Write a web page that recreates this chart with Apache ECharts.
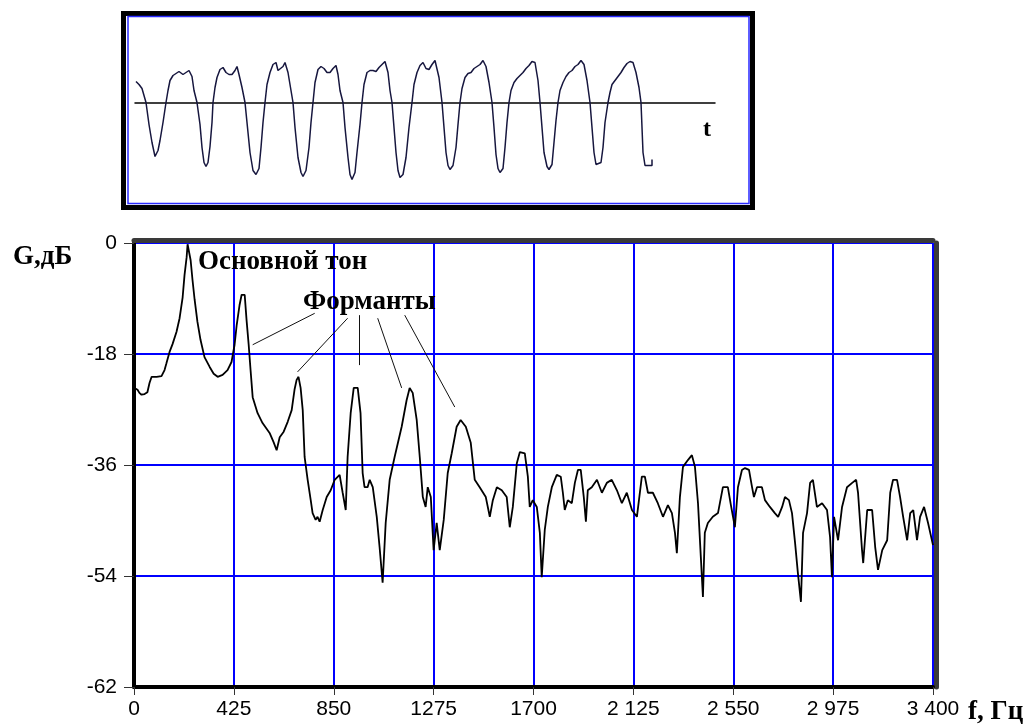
<!DOCTYPE html>
<html>
<head>
<meta charset="utf-8">
<script src="https://cdn.jsdelivr.net/npm/echarts@6/dist/echarts.min.js"></script>
<style>
html,body{margin:0;padding:0;background:#fff;}
#c{width:1029px;height:727px;}
</style>
</head>
<body>
<div id="c"></div>
<script>
// ---- Waveform (top box): time samples and amplitude (arbitrary units) ----
const waveT = [1,4,7,11,14,17,20,23,25,28,31,33,35,38,41,44,48,51,54,57,59,62,
65,67,69,71,73,75,77,78,80,82,85,88,91,94,97,100,102,104,107,110,
112,115,118,121,124,126,128,130,132,135,138,141,143,145,148,150,153,156,158,
160,163,166,168,171,174,176,178,180,183,186,189,192,195,198,201,203,205,208,
210,213,215,217,220,222,225,227,229,232,235,238,241,244,247,250,253,255,257,
259,261,263,265,268,271,274,277,279,282,285,288,291,294,297,300,302,304,307,
309,311,313,315,318,321,323,325,327,330,333,336,339,342,345,348,351,354,357,
359,361,363,365,368,370,372,374,376,379,382,385,388,391,394,397,400,403,405,
407,409,412,414,417,419,421,423,425,428,431,434,437,440,443,446,449,452,455,
457,459,461,463,466,468,470,473,475,477,480,483,486,489,492,495,498,501,504,506,
507,508,510,513,517,517];
const waveA = [21,18,14,0,-22,-40,-54,-48,-38,-20,0,12,22,27,29,31,28,30,32,26,12,0,
-22,-45,-60,-64,-60,-44,-20,0,15,25,33,35,30,28,28,32,36,28,15,0,
-20,-50,-68,-72,-66,-45,-20,0,18,30,38,40,32,30,36,40,30,12,0,
-25,-55,-70,-74,-68,-45,-20,0,20,33,36,34,30,30,34,37,28,12,0,
-25,-55,-72,-77,-70,-50,-22,0,18,30,32,32,31,35,38,41,30,12,0,
-25,-50,-68,-75,-72,-55,-25,0,18,30,37,40,34,33,38,42,40,25,0,
-25,-50,-63,-67,-63,-45,-22,0,14,25,29,30,34,36,38,42,36,20,0,
-25,-52,-66,-70,-66,-45,-20,0,12,20,24,27,30,34,37,41,40,22,0,
-25,-50,-64,-67,-62,-40,-18,0,12,20,26,30,32,36,38,42,38,22,0,
-25,-50,-62,-64,-60,-45,-20,0,10,18,22,26,30,35,39,41,40,30,15,0,
-25,-50,-63,-63,-63,-57];

// ---- Spectrum: frequency (Hz) and level (dB, linear plot scale) ----
const freqHz = [2,15,23,32,45,57,66,75,96,117,130,138,151,164,181,194,207,215,224,228,232,241,249,258,270,283,300,322,339,356,377,398,415,428,437,449,458,471,479,488,496,505,526,547,577,594,607,620,637,654,671,683,692,700,709,718,726,739,752,760,773,781,790,803,820,837,854,875,888,901,909,922,935,952,964,973,981,994,1003,1016,1033,1045,1058,1071,1088,1109,1139,1160,1173,1186,1203,1216,1229,1241,1250,1263,1275,1288,1301,1318,1335,1352,1373,1390,1412,1433,1450,1471,1497,1514,1527,1544,1565,1586,1599,1612,1629,1642,1663,1676,1684,1697,1714,1727,1735,1748,1761,1778,1799,1816,1825,1833,1846,1863,1876,1889,1901,1914,1923,1931,1948,1970,1991,2012,2033,2055,2076,2097,2119,2140,2161,2174,2187,2208,2229,2251,2272,2289,2302,2310,2323,2336,2357,2374,2387,2400,2412,2421,2429,2442,2463,2485,2506,2527,2540,2549,2557,2570,2587,2600,2617,2630,2638,2651,2672,2685,2706,2727,2741,2758,2770,2787,2800,2813,2825,2838,2847,2864,2877,2889,2906,2928,2949,2962,2970,2979,2996,3013,3034,3056,3073,3081,3098,3103,3120,3141,3154,3166,3184,3205,3218,3230,3247,3260,3273,3290,3303,3316,3332,3345,3362,3379,3400];
const levelDb = [-23.5,-23.8,-24.3,-24.6,-24.5,-24.2,-22.7,-21.7,-21.7,-21.6,-20.6,-19.5,-17.7,-16.4,-14.4,-12.2,-8.8,-5.2,-2.3,-0.2,-0.2,-2.8,-6.0,-9.2,-12.8,-15.7,-18.5,-20.1,-21.2,-21.7,-21.4,-20.6,-19.3,-16.5,-13.3,-10.1,-8.4,-8.4,-12.5,-16.5,-20.6,-25.0,-27.6,-29.2,-30.8,-32.3,-33.6,-31.5,-30.6,-29.0,-27.1,-23.8,-22.2,-21.7,-23.5,-27.1,-34.7,-38.4,-41.7,-43.8,-44.9,-44.4,-45.2,-43.3,-41.2,-40.1,-38.4,-37.6,-40.5,-43.3,-34.7,-27.6,-23.5,-23.5,-27.6,-37.3,-39.6,-39.6,-38.4,-39.6,-44.4,-49.3,-55.1,-45.4,-38.4,-34.7,-29.8,-25.5,-23.5,-24.3,-28.7,-34.7,-41.2,-42.8,-39.6,-41.2,-49.8,-45.4,-49.8,-44.9,-37.3,-34.1,-29.8,-28.7,-29.8,-32.4,-38.4,-39.6,-41.2,-44.4,-41.7,-39.6,-40.1,-41.2,-46.1,-42.8,-35.7,-33.9,-34.1,-37.9,-42.8,-41.7,-42.8,-47.0,-54.2,-46.5,-42.8,-39.6,-37.6,-37.9,-40.5,-43.3,-41.7,-42.2,-38.9,-36.8,-36.8,-41.2,-45.2,-40.1,-39.6,-38.4,-40.5,-38.9,-38.4,-40.1,-42.2,-40.5,-43.3,-44.4,-37.9,-37.9,-40.5,-40.5,-42.2,-44.4,-42.5,-43.8,-47.0,-50.3,-41.2,-36.3,-35.2,-34.4,-36.3,-42.2,-50.9,-57.4,-47.0,-45.4,-44.4,-43.8,-39.6,-39.6,-42.5,-44.4,-46.1,-39.6,-36.8,-36.5,-36.8,-39.6,-41.2,-39.6,-39.6,-41.7,-42.8,-43.8,-44.4,-42.8,-41.2,-41.7,-43.8,-48.6,-53.5,-58.2,-47.0,-43.8,-38.9,-38.4,-42.8,-42.2,-43.3,-47.7,-54.2,-44.4,-48.2,-42.8,-39.6,-38.9,-38.4,-40.5,-49.8,-51.9,-43.3,-43.3,-49.3,-53.0,-49.8,-48.2,-40.5,-38.4,-38.4,-41.2,-44.4,-48.2,-43.8,-43.3,-48.2,-44.4,-42.8,-45.4,-49.0];

// ---- Axis ticks ----
const xTickStep = 425;
const xTickLabels = ['0','425','850','1275','1700','2 125','2 550','2 975','3 400'];
const yTickStep = 18;
const yTickValues = [0,-18,-36,-54,-72];
const yTickLabels = ['0','-18','-36','-54','-62'];

// ---- Formant leader lines [fromHz, fromDb, toHz, toDb] ----
const leaderFrom = [[769,-11.4],[909,-12.2],[960,-11.7],[1037,-12.2],[1152,-11.7]];
const leaderTo   = [[505,-16.5],[696,-20.9],[960,-19.8],[1139,-23.5],[1365,-26.6]];

const wave = waveT.map((t,i)=>[t, waveA[i]]);
const spec = freqHz.map((f,i)=>[f, levelDb[i]]);
const leaders = leaderFrom.map((p,i)=>[{coord:p},{coord:leaderTo[i]}]);

const chart = echarts.init(document.getElementById('c'), null, {renderer:'canvas'});
const sans = 'Liberation Sans, Arial, sans-serif';
const serif = 'Liberation Serif, Times New Roman, serif';

chart.setOption({
  animation:false,
  backgroundColor:'#ffffff',
  grid:[
    {left:135, top:16.5, width:580, height:187},
    {left:134, top:243, right:96, bottom:40}
  ],
  xAxis:[
    {gridIndex:0, type:'value', min:0, max:580,
     axisLine:{show:true, onZero:true, lineStyle:{color:'#000', width:1.5}},
     axisTick:{show:false}, axisLabel:{show:false}, splitLine:{show:false}},
    {gridIndex:1, type:'value', min:0, max:3400, interval:xTickStep,
     axisLine:{show:true, onZero:false, lineStyle:{color:'#000', width:4}},
     axisTick:{show:true, length:8, lineStyle:{color:'#333', width:1}},
     axisLabel:{show:true, margin:12, color:'#000', fontFamily:sans, fontSize:21,
       formatter:(v)=>xTickLabels[Math.round(v/xTickStep)] || ''},
     splitLine:{show:true, showMinLine:false, lineStyle:{color:'#0000ff', width:2}}},
    {gridIndex:1, type:'value', position:'top', offset:3, min:0, max:3400,
     axisLine:{show:true, onZero:false, lineStyle:{color:'#3a3a3a', width:5}},
     axisTick:{show:false}, axisLabel:{show:false}, splitLine:{show:false}}
  ],
  yAxis:[
    {gridIndex:0, type:'value', min:-101, max:86, show:false, splitLine:{show:false}},
    {gridIndex:1, type:'value', min:-72, max:0, interval:yTickStep,
     axisLine:{show:true, onZero:false, lineStyle:{color:'#000', width:4}},
     axisTick:{show:true, length:10, lineStyle:{color:'#333', width:1}},
     axisLabel:{show:true, margin:17, color:'#000', fontFamily:sans, fontSize:21,
       formatter:(v)=>{const k=yTickValues.indexOf(v); return k>=0?yTickLabels[k]:'';}},
     splitLine:{show:true, lineStyle:{color:'#0000ff', width:2}}},
    {gridIndex:1, type:'value', position:'right', offset:3, min:-72, max:0,
     axisLine:{show:true, onZero:false, lineStyle:{color:'#3a3a3a', width:5}},
     axisTick:{show:false}, axisLabel:{show:false}, splitLine:{show:false}}
  ],
  series:[
    {type:'line', xAxisIndex:0, yAxisIndex:0, data:wave, symbol:'none', showSymbol:false,
     lineStyle:{color:'#16163e', width:1.5}, silent:true},
    {type:'line', xAxisIndex:1, yAxisIndex:1, data:spec, symbol:'none', showSymbol:false,
     lineStyle:{color:'#000', width:1.8}, silent:true, z:5,
     markLine:{silent:true, symbol:['none','none'], label:{show:false},
       lineStyle:{color:'#111', width:1, type:'solid'}, emphasis:{disabled:true},
       data:leaders}}
  ],
  graphic:[
    {type:'rect', shape:{x:123.5, y:13.5, width:629, height:194},
     style:{fill:null, stroke:'#000', lineWidth:5}, silent:true, z:10},
    {type:'rect', shape:{x:128, y:16.5, width:621, height:187},
     style:{fill:null, stroke:'#2a2aff', lineWidth:1.5}, silent:true, z:10},
    {type:'text', x:703, y:130, silent:true, z:10,
     style:{text:'t', font:'bold 24px '+serif, fill:'#000', textVerticalAlign:'middle'}},
    {type:'text', x:13, y:257, silent:true, z:10,
     style:{text:'G,дБ', font:'bold 27px '+serif, fill:'#000', textVerticalAlign:'middle'}},
    {type:'text', x:968, y:712, silent:true, z:10,
     style:{text:'f, Гц', font:'bold 27px '+serif, fill:'#000', textVerticalAlign:'middle'}},
    {type:'text', x:198, y:262, silent:true, z:10,
     style:{text:'Основной тон', font:'bold 27px '+serif, fill:'#000', textVerticalAlign:'middle'}},
    {type:'text', x:303, y:302, silent:true, z:10,
     style:{text:'Форманты', font:'bold 27px '+serif, fill:'#000', textVerticalAlign:'middle'}}
  ]
});
</script>
</body>
</html>
